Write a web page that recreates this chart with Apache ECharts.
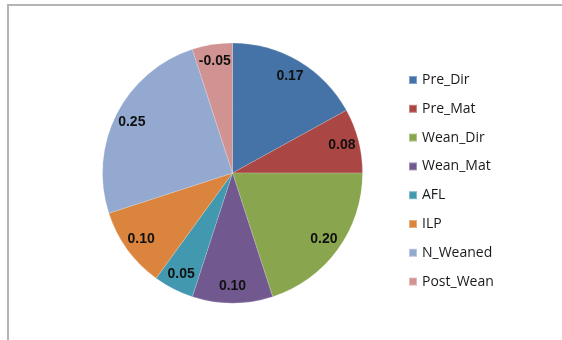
<html>
<head>
    <meta http-equiv="Content-Type" content="text/html; charset=utf-8">
    <script src="https://cdn.jsdelivr.net/npm/echarts@6/dist/echarts.min.js"></script>
    <style>
        * {
            margin: 0;
            padding: 0;
        }

        body {
            background: #ffffff;
        }

        #main {
            width: 562px;
            height: 340px;
        }
    </style>
</head>
<body>
<div id="main"></div>
<script type="text/javascript">
    // 数据
    let names = ['Pre_Dir', 'Pre_Mat', 'Wean_Dir', 'Wean_Mat', 'AFL', 'ILP', 'N_Weaned', 'Post_Wean'];
    let values = [0.17, 0.08, 0.20, 0.10, 0.05, 0.10, 0.25, -0.05];
    let colors = ['#4573a7', '#aa4643', '#89a54e', '#71598f', '#4198af', '#db843d', '#93a9cf', '#d19392'];

    // slice size uses the magnitude, label keeps the sign
    let pieData = names.map(function (n, i) {
        return {name: n, value: Math.abs(values[i])};
    });

    let myChart = echarts.init(document.getElementById('main'), null, {renderer: 'canvas'});

    let center = [232.5, 173];

    let option = {
        animation: false,
        color: colors,
        graphic: [
            {
                type: 'rect',
                shape: {x: 8, y: 5, width: 620, height: 400},
                style: {fill: 'none', stroke: '#b4b4b4', lineWidth: 2},
                silent: true
            }
        ],
        legend: {
            orient: 'vertical',
            left: 403,
            top: 68,
            itemWidth: 8,
            itemHeight: 8,
            itemGap: 14.8,
            icon: 'rect',
            data: names,
            textStyle: {
                fontSize: 14,
                lineHeight: 14,
                color: '#1a1a1a',
                fontFamily: 'Open Sans'
            }
        },
        series: [
            {
                name: 'pie',
                type: 'pie',
                center: center,
                radius: [0, 130],
                startAngle: 90,
                clockwise: true,
                avoidLabelOverlap: false,
                label: {show: false},
                labelLine: {show: false},
                itemStyle: {borderColor: 'rgba(255,255,255,0.35)', borderWidth: 0.5},
                data: pieData
            },
            {
                // label ring, puts labels near the rim like the original
                name: 'labels',
                type: 'pie',
                center: center,
                radius: [90, 130],
                startAngle: 90,
                clockwise: true,
                silent: true,
                avoidLabelOverlap: false,
                legendHoverLink: false,
                itemStyle: {color: 'rgba(0,0,0,0)'},
                labelLine: {show: false},
                label: {
                    show: true,
                    position: 'inside',
                    fontSize: 14,
                    fontWeight: 'bold',
                    color: '#111',
                    fontFamily: 'Liberation Sans',
                    formatter: function (p) {
                        return values[p.dataIndex].toFixed(2);
                    }
                },
                data: pieData
            }
        ]
    };

    myChart.setOption(option);
</script>
</body>
</html>
